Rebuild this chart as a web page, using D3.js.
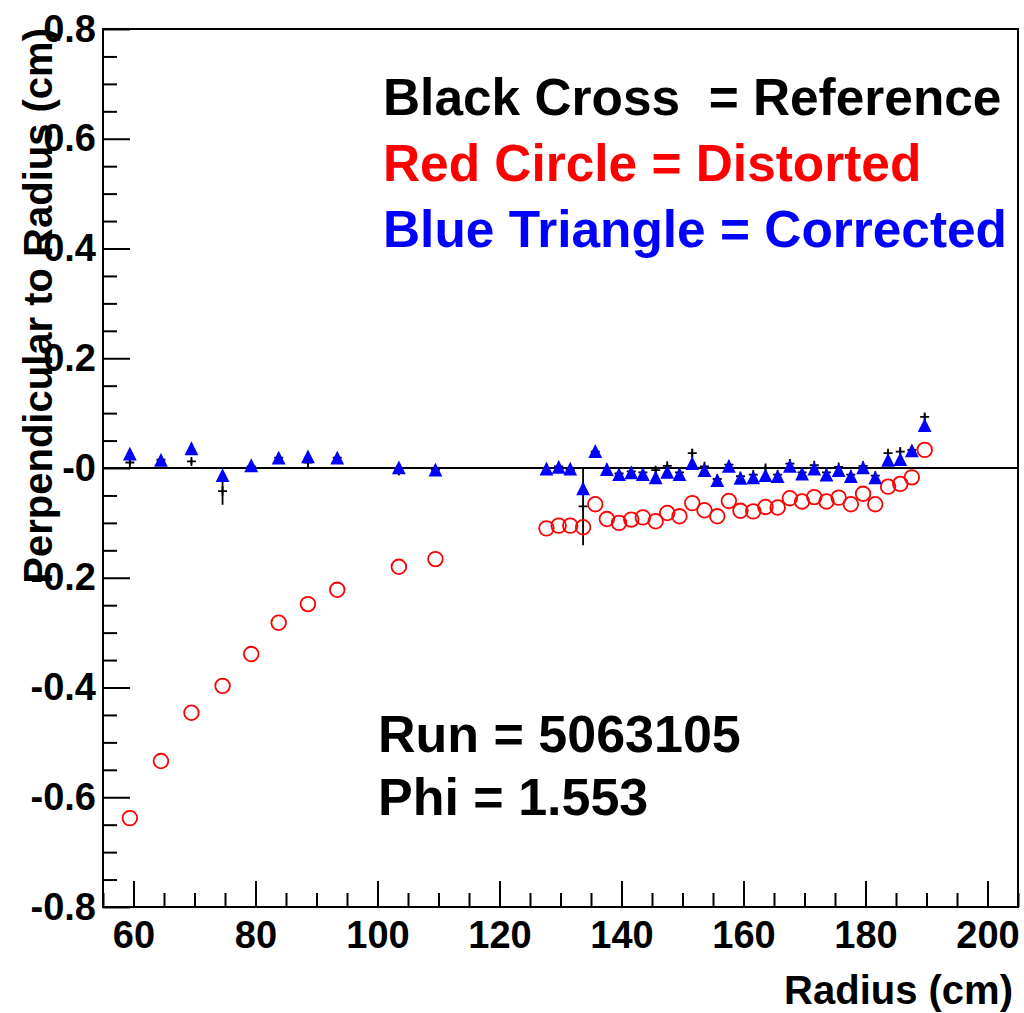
<!DOCTYPE html>
<html>
<head>
<meta charset="utf-8">
<script src="https://cdn.jsdelivr.net/npm/d3@7"></script>
<style>
  body { margin: 0; background: #fff; }
  text { font-family: "Liberation Sans", Arial, Helvetica, sans-serif; font-weight: bold; }
</style>
</head>
<body>
<div id="wrapper"></div>
<script>
// radius of each pad row (cm)
const radius = [59.4, 64.5, 69.5, 74.6, 79.3, 83.8, 88.6, 93.4, 103.5, 109.5,
    127.7, 129.7, 131.6, 133.7, 135.7, 137.6, 139.6, 141.6, 143.5, 145.6, 147.5, 149.5,
    151.6, 153.6, 155.7, 157.6, 159.5, 161.6, 163.6, 165.6, 167.6, 169.6, 171.6, 173.6,
    175.6, 177.6, 179.6, 181.6, 183.7, 185.7, 187.6, 189.7];

// black cross = reference (with error)
const reference = [0.010, 0.015, 0.012, -0.042, 0.003, 0.019, 0.010, 0.019, -0.005, -0.003,
    0.000, 0.003, -0.004, -0.070, 0.030, 0.000, -0.010, -0.006, -0.008, -0.004, 0.004, -0.008,
    0.027, 0.003, -0.020, 0.006, -0.015, -0.012, 0.000, -0.012, 0.008, -0.008, 0.005, -0.008,
    0.002, -0.012, 0.004, -0.014, 0.027, 0.030, 0.033, 0.093];
const referenceErr = [0.005, 0.004, 0.004, 0.025, 0.004, 0.004, 0.005, 0.004, 0.008, 0.004,
    0.004, 0.004, 0.008, 0.071, 0.004, 0.004, 0.004, 0.004, 0.005, 0.006, 0.004, 0.004,
    0.008, 0.005, 0.004, 0.004, 0.004, 0.005, 0.005, 0.004, 0.004, 0.004, 0.004, 0.004,
    0.004, 0.004, 0.004, 0.004, 0.005, 0.005, 0.004, 0.006];

// red circle = distorted
const distorted = [-0.638, -0.534, -0.446, -0.397, -0.339, -0.282, -0.248, -0.222, -0.180, -0.166,
    -0.110, -0.105, -0.105, -0.108, -0.066, -0.093, -0.100, -0.094, -0.090, -0.097, -0.082, -0.088,
    -0.064, -0.077, -0.088, -0.060, -0.078, -0.079, -0.071, -0.072, -0.055, -0.061, -0.053, -0.061,
    -0.054, -0.066, -0.047, -0.066, -0.034, -0.029, -0.017, 0.033];

// blue triangle = corrected
const corrected = [0.026, 0.015, 0.036, -0.013, 0.005, 0.019, 0.021, 0.019, 0.001, -0.003,
    -0.001, 0.002, -0.001, -0.037, 0.031, -0.002, -0.011, -0.008, -0.011, -0.017, -0.007, -0.011,
    0.009, -0.004, -0.022, 0.004, -0.018, -0.017, -0.013, -0.015, 0.004, -0.010, -0.001, -0.012,
    -0.004, -0.015, 0.001, -0.017, 0.015, 0.016, 0.032, 0.078];

const xTicks = [60, 80, 100, 120, 140, 160, 180, 200];
const xTickLabels = ["60", "80", "100", "120", "140", "160", "180", "200"];
const yTicks = [-0.8, -0.6, -0.4, -0.2, 0, 0.2, 0.4, 0.6, 0.8];
const yTickLabels = ["-0.8", "-0.6", "-0.4", "-0.2", "-0", "0.2", "0.4", "0.6", "0.8"];
const legendLines = [
    {text: "Black Cross  = Reference", color: "#000000"},
    {text: "Red Circle = Distorted", color: "#ff0000"},
    {text: "Blue Triangle = Corrected", color: "#0000ff"}
];
const infoLines = ["Run = 5063105", "Phi = 1.553"];

function buildPlot() {
    const dimension = {
        width: 1024,
        height: 1013,
        margin: {top: 29, left: 103, bottom: 106, right: 6}
    };
    dimension.boundedWidth = dimension.width - dimension.margin.left - dimension.margin.right;
    dimension.boundedHeight = dimension.height - dimension.margin.top - dimension.margin.bottom;

    const data = radius.map((r, i) => ({
        r: r, ref: reference[i], err: referenceErr[i], dist: distorted[i], corr: corrected[i]
    }));

    const svg = d3.select("#wrapper").append("svg")
        .attr("width", dimension.width)
        .attr("height", dimension.height);
    const bounded = svg.append("g")
        .attr("transform", `translate(${dimension.margin.left},${dimension.margin.top})`);

    const xScale = d3.scaleLinear().domain([55, 205]).range([0, dimension.boundedWidth]);
    const yScale = d3.scaleLinear().domain([-0.8, 0.8]).range([dimension.boundedHeight, 0]);

    // minor ticks
    const xMinor = d3.range(55, 206, 5).filter(v => v % 20 !== 0);
    const yMinor = d3.range(-16, 17).map(v => v * 0.05).filter(v => Math.abs(Math.round(v * 20)) % 4 !== 0);

    const xAxisMinor = bounded.append("g")
        .attr("transform", `translate(0,${dimension.boundedHeight})`)
        .call(d3.axisBottom(xScale).tickValues(xMinor).tickSize(-14).tickFormat(""));
    const xAxis = bounded.append("g")
        .attr("transform", `translate(0,${dimension.boundedHeight})`)
        .call(d3.axisBottom(xScale).tickValues(xTicks).tickSize(-26).tickPadding(14)
            .tickFormat((d, i) => xTickLabels[i]));
    const yAxisMinor = bounded.append("g")
        .call(d3.axisLeft(yScale).tickValues(yMinor).tickSize(-14).tickFormat(""));
    const yAxis = bounded.append("g")
        .call(d3.axisLeft(yScale).tickValues(yTicks).tickSize(-27).tickPadding(7)
            .tickFormat((d, i) => yTickLabels[i]));

    [xAxisMinor, xAxis, yAxisMinor, yAxis].forEach(ax => {
        ax.select(".domain").remove();
        ax.selectAll("line").attr("stroke", "#000").attr("stroke-width", 2);
        ax.selectAll("text")
            .attr("fill", "#000")
            .style("font-family", "'Liberation Sans', Arial, Helvetica, sans-serif")
            .style("font-weight", "bold")
            .style("font-size", "38px");
    });

    // frame
    bounded.append("rect")
        .attr("width", dimension.boundedWidth)
        .attr("height", dimension.boundedHeight)
        .attr("fill", "none")
        .attr("stroke", "#000")
        .attr("stroke-width", 2);

    // zero line
    bounded.append("line")
        .attr("x1", 0).attr("x2", dimension.boundedWidth)
        .attr("y1", yScale(0)).attr("y2", yScale(0))
        .attr("stroke", "#000").attr("stroke-width", 2);

    // reference: error bars + plus markers
    const refG = bounded.append("g").attr("stroke", "#000").attr("stroke-width", 1.8);
    refG.selectAll(".err").data(data).join("line")
        .attr("x1", d => xScale(d.r)).attr("x2", d => xScale(d.r))
        .attr("y1", d => yScale(d.ref - d.err)).attr("y2", d => yScale(d.ref + d.err));
    refG.selectAll(".plus").data(data).join("path")
        .attr("transform", d => `translate(${xScale(d.r)},${yScale(d.ref)})`)
        .attr("d", "M-4.5,0H4.5M0,-4.5V4.5");

    // distorted circles
    bounded.append("g").selectAll("circle").data(data).join("circle")
        .attr("cx", d => xScale(d.r))
        .attr("cy", d => yScale(d.dist))
        .attr("r", 7.3)
        .attr("fill", "none")
        .attr("stroke", "#ff0000")
        .attr("stroke-width", 1.8);

    // corrected triangles, bounding box centred on the point
    const triUp = {
        draw(ctx, size) {
            const w = Math.sqrt(size);
            ctx.moveTo(0, -w / 2);
            ctx.lineTo(w / 2, w / 2);
            ctx.lineTo(-w / 2, w / 2);
            ctx.closePath();
        }
    };
    bounded.append("g").selectAll("path").data(data).join("path")
        .attr("transform", d => `translate(${xScale(d.r)},${yScale(d.corr)})`)
        .attr("d", d3.symbol(triUp, 190)())
        .attr("fill", "#0000ff");

    // legend text
    svg.append("g").selectAll("text").data(legendLines).join("text")
        .attr("x", 383)
        .attr("y", (d, i) => 115 + i * 66)
        .attr("fill", d => d.color)
        .style("font-size", "51.4px")
        .style("white-space", "pre")
        .attr("xml:space", "preserve")
        .text(d => d.text);

    svg.append("g").selectAll("text").data(infoLines).join("text")
        .attr("x", 378)
        .attr("y", (d, i) => 752 + i * 63)
        .attr("fill", "#000")
        .style("font-size", "52px")
        .text(d => d);

    // axis titles
    svg.append("text")
        .attr("x", 1013).attr("y", 1004)
        .attr("text-anchor", "end")
        .style("font-size", "40px")
        .text("Radius (cm)");
    svg.append("text")
        .attr("transform", "translate(52,28) rotate(-90)")
        .attr("text-anchor", "end")
        .style("font-size", "40px")
        .text("Perpendicular to Radius (cm)");
}

buildPlot();
</script>
</body>
</html>
